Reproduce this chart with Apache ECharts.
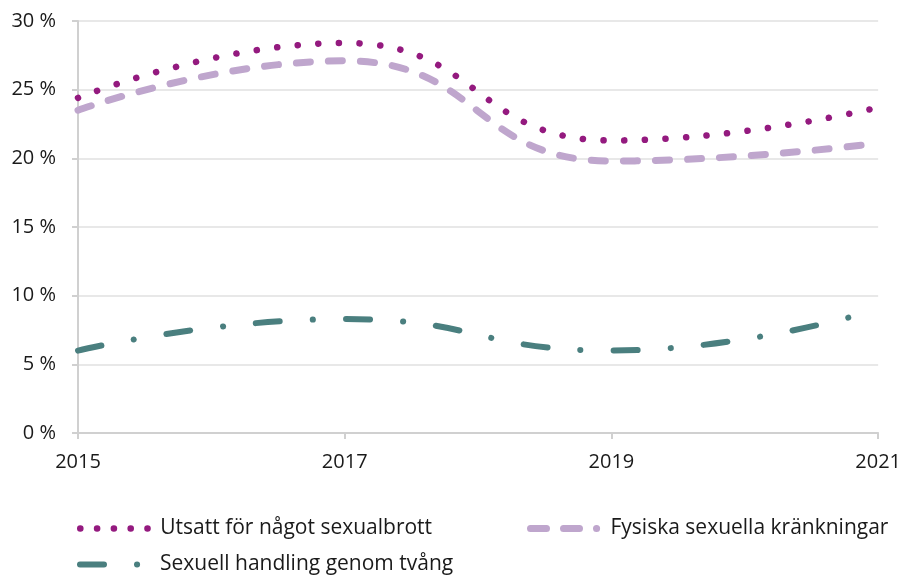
<!DOCTYPE html>
<html>
<head>
<meta charset="utf-8">
<script src="https://cdn.jsdelivr.net/npm/echarts@6/dist/echarts.min.js"></script>
<style>
  html, body { margin: 0; padding: 0; background: #fff; }
  #grafica { width: 904px; height: 576px; }
</style>
</head>
<body>
<div id="grafica"></div>
<script>
const annios = ['2015', '2017', '2019', '2021'];
const sexualbrott = [24.4, 28.4, 21.3, 23.7];
const krankningar = [23.5, 27.1, 19.8, 21.1];
const tvang = [6.0, 8.3, 6.0, 9.0];

const nombres = ['Utsatt för något sexualbrott', 'Fysiska sexuella kränkningar', 'Sexuell handling genom tvång'];
const colores = ['#941a7f', '#bfa6cd', '#4a7f7f'];
const trazos = [[0.1, 20.5], [14, 18], [24, 33, 0.1, 33]];
const anchos = [6.5, 7, 6];
const fuente = 'Open Sans';
const colorTexto = '#1a1a1a';

const chart = echarts.init(document.getElementById('grafica'));

function serie(idx, valores) {
  return {
    name: nombres[idx],
    type: 'line',
    data: valores,
    smooth: 0.5,
    symbol: 'none',
    lineStyle: { color: colores[idx], width: anchos[idx], type: trazos[idx], cap: 'round' },
    itemStyle: { color: colores[idx] }
  };
}

// una leyenda por elemento, para colocarlas como en el original
function leyenda(idx, left, top, trazoIcono) {
  return {
    data: [nombres[idx]],
    left: left,
    top: top,
    itemWidth: 75,
    itemHeight: 14,
    padding: 0,
    itemStyle: { opacity: 0 },
    lineStyle: { color: colores[idx], width: anchos[idx], type: trazoIcono, cap: 'round' },
    textStyle: { fontFamily: fuente, fontSize: 21, color: colorTexto }
  };
}

chart.setOption({
  animation: false,
  grid: { left: 78, right: 24, top: 21, bottom: 143 },
  xAxis: {
    type: 'category',
    data: annios,
    boundaryGap: false,
    axisLine: { lineStyle: { color: '#d0d0d0', width: 2 } },
    axisTick: { length: 6, lineStyle: { color: '#d0d0d0', width: 2 } },
    axisLabel: { fontFamily: fuente, fontSize: 20, color: colorTexto, margin: 19 }
  },
  yAxis: {
    type: 'value',
    min: 0,
    max: 30,
    interval: 5,
    axisLine: { show: true, lineStyle: { color: '#d0d0d0', width: 2 } },
    axisTick: { show: true, length: 6, lineStyle: { color: '#d0d0d0', width: 2 } },
    axisLabel: { fontFamily: fuente, fontSize: 20, color: colorTexto, margin: 22, formatter: '{value} %' },
    splitLine: { lineStyle: { color: '#e0e0e0', width: 1.5 } }
  },
  legend: [
    leyenda(0, 77, 518, [0.1, 16.7]),
    leyenda(1, 527, 518, [16, 17, 16, 17, 0.1, 40]),
    leyenda(2, 77, 554, [24, 33, 0.1, 40])
  ],
  series: [
    serie(0, sexualbrott),
    serie(1, krankningar),
    serie(2, tvang)
  ]
});
</script>
</body>
</html>
